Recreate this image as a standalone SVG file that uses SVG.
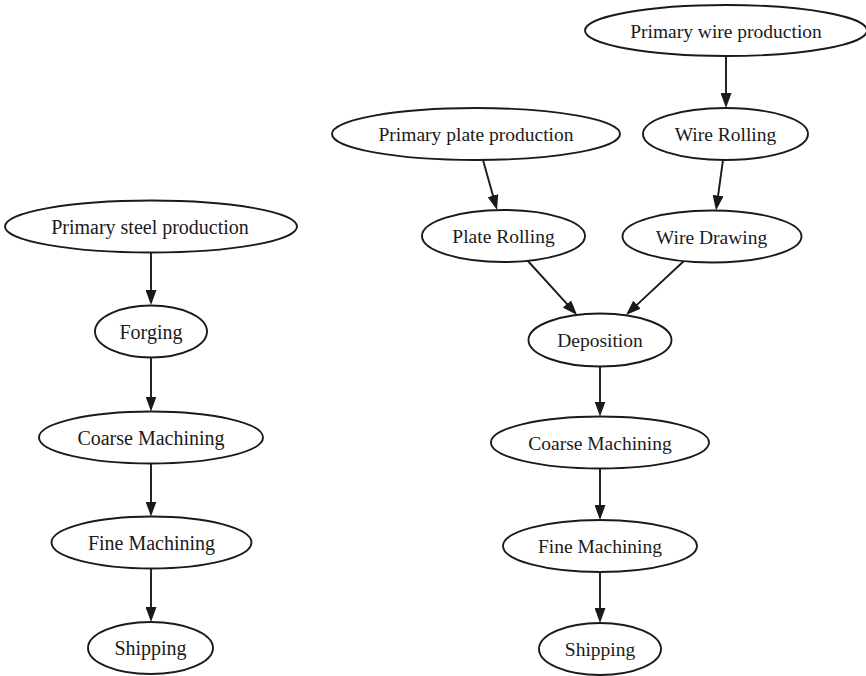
<svg xmlns="http://www.w3.org/2000/svg" width="866" height="676" viewBox="0 0 866 676">
  <style>
    .node ellipse { fill: #ffffff; stroke: #1a1a1a; stroke-width: 1.9; }
    .node text { font-family: "Liberation Serif", "Times New Roman", serif; fill: #1a1a1a; text-anchor: middle; }
    .left text { font-size: 20px; }
    .right text { font-size: 19.5px; }
    .edges path { fill: none; stroke: #1a1a1a; stroke-width: 1.9; marker-end: url(#arrow); }
  </style>
  <defs>
    <marker id="arrow" markerUnits="userSpaceOnUse" markerWidth="15" markerHeight="11" refX="2" refY="5.5" orient="auto">
      <path d="M0,0 L15,5.5 L0,11 z" fill="#1a1a1a"/>
    </marker>
  </defs>
  <rect width="866" height="676" fill="#ffffff"/>

  <!-- connectors -->
  <g id="edges" class="edges">
    <!-- left chain -->
    <path d="M151,252.5 L151,292"/>
    <path d="M151,358 L151,398.5"/>
    <path d="M151,463.5 L151,503.5"/>
    <path d="M151,568.5 L151,609"/>
    <!-- right graph -->
    <path d="M726,56 L726,95"/>
    <path d="M723,160 L717.8,197.6"/>
    <path d="M483,160 L493.5,197.5"/>
    <path d="M527,260 L568.3,305.4"/>
    <path d="M685,260 L635.5,306.1"/>
    <path d="M600,366.5 L600,403.5"/>
    <path d="M600,468.5 L600,507"/>
    <path d="M600,572 L600,610"/>
  </g>

  <!-- left process: forged part -->
  <g id="l_primary_steel" class="node left">
    <ellipse cx="151" cy="226.5" rx="146" ry="26"/>
    <text x="150" y="233.5">Primary steel production</text>
  </g>
  <g id="l_forging" class="node left">
    <ellipse cx="151" cy="331.5" rx="56" ry="26"/>
    <text x="151" y="338.5">Forging</text>
  </g>
  <g id="l_coarse" class="node left">
    <ellipse cx="151" cy="437.5" rx="112" ry="26"/>
    <text x="151" y="444.5">Coarse Machining</text>
  </g>
  <g id="l_fine" class="node left">
    <ellipse cx="151.5" cy="542.5" rx="100" ry="26"/>
    <text x="151.5" y="549.5">Fine Machining</text>
  </g>
  <g id="l_shipping" class="node left">
    <ellipse cx="150.5" cy="648" rx="62.5" ry="26"/>
    <text x="150.5" y="655">Shipping</text>
  </g>

  <!-- right process: deposited part -->
  <g id="r_primary_wire" class="node right">
    <ellipse cx="726" cy="30.5" rx="141" ry="25.5"/>
    <text x="726" y="37.5">Primary wire production</text>
  </g>
  <g id="r_primary_plate" class="node right">
    <ellipse cx="476" cy="134" rx="144" ry="26"/>
    <text x="476" y="141">Primary plate production</text>
  </g>
  <g id="r_wire_rolling" class="node right">
    <ellipse cx="725.5" cy="134" rx="82.5" ry="26"/>
    <text x="725.5" y="141">Wire Rolling</text>
  </g>
  <g id="r_plate_rolling" class="node right">
    <ellipse cx="503.5" cy="236" rx="81.5" ry="26"/>
    <text x="503.5" y="243">Plate Rolling</text>
  </g>
  <g id="r_wire_drawing" class="node right">
    <ellipse cx="712" cy="236.5" rx="89.5" ry="26"/>
    <text x="711.5" y="243.5">Wire Drawing</text>
  </g>
  <g id="r_deposition" class="node right">
    <ellipse cx="600" cy="340" rx="71.5" ry="26.5"/>
    <text x="600" y="347">Deposition</text>
  </g>
  <g id="r_coarse" class="node right">
    <ellipse cx="600" cy="442.5" rx="109" ry="26"/>
    <text x="600" y="449.5">Coarse Machining</text>
  </g>
  <g id="r_fine" class="node right">
    <ellipse cx="600" cy="546" rx="97" ry="26"/>
    <text x="600" y="553">Fine Machining</text>
  </g>
  <g id="r_shipping" class="node right">
    <ellipse cx="600" cy="649" rx="61" ry="26"/>
    <text x="600" y="656">Shipping</text>
  </g>
</svg>
